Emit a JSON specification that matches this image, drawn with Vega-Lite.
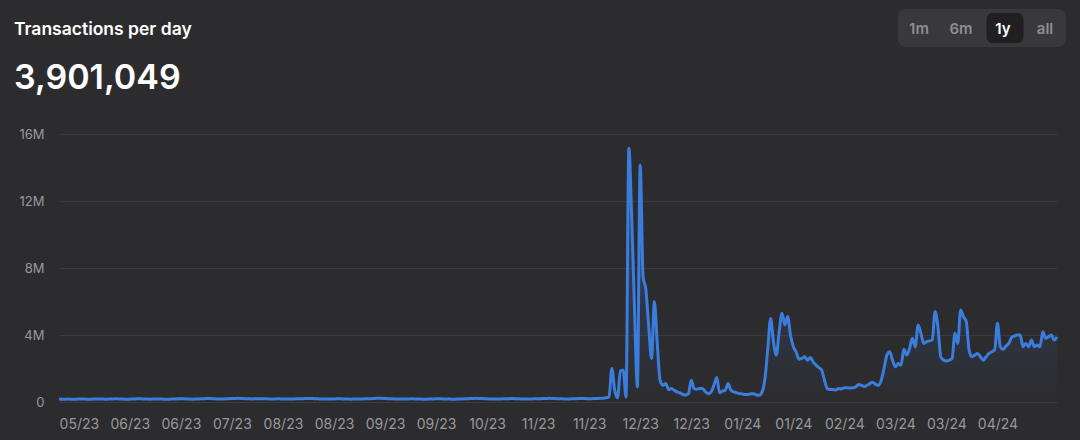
{
  "$schema": "https://vega.github.io/schema/vega-lite/v6.json",
  "background": "#2c2c2e",
  "padding": {"left": 14, "right": 14, "top": 9, "bottom": 9},
  "config": {"view": {"stroke": null}, "font": "Inter"},
  "datasets": {
    "btns": [{"b": "1m", "sel": false}, {"b": "6m", "sel": false}, {"b": "1y", "sel": true}, {"b": "all", "sel": false}],
    "head": [{"t": "Transactions per day"}],
    "tx": [
{"d":"2023-05-16","v":175000},{"d":"2023-05-17","v":170000},{"d":"2023-05-18","v":168000},{"d":"2023-05-19","v":172000},{"d":"2023-05-20","v":165000},{"d":"2023-05-21","v":160000},{"d":"2023-05-22","v":170000},{"d":"2023-05-23","v":178000},{"d":"2023-05-24","v":182000},{"d":"2023-05-25","v":176000},{"d":"2023-05-26","v":170000},{"d":"2023-05-27","v":168000},{"d":"2023-05-28","v":174000},{"d":"2023-05-29","v":180000},{"d":"2023-05-30","v":185000},{"d":"2023-05-31","v":178000},
{"d":"2023-06-01","v":172000},{"d":"2023-06-02","v":168000},{"d":"2023-06-03","v":175000},{"d":"2023-06-04","v":182000},{"d":"2023-06-05","v":190000},{"d":"2023-06-06","v":185000},{"d":"2023-06-07","v":178000},{"d":"2023-06-08","v":170000},{"d":"2023-06-09","v":165000},{"d":"2023-06-10","v":172000},{"d":"2023-06-11","v":180000},{"d":"2023-06-12","v":186000},{"d":"2023-06-13","v":192000},{"d":"2023-06-14","v":188000},{"d":"2023-06-15","v":180000},{"d":"2023-06-16","v":174000},{"d":"2023-06-17","v":170000},{"d":"2023-06-18","v":176000},{"d":"2023-06-19","v":182000},{"d":"2023-06-20","v":178000},{"d":"2023-06-21","v":172000},{"d":"2023-06-22","v":168000},{"d":"2023-06-23","v":165000},{"d":"2023-06-24","v":170000},{"d":"2023-06-25","v":178000},{"d":"2023-06-26","v":185000},{"d":"2023-06-27","v":190000},{"d":"2023-06-28","v":196000},{"d":"2023-06-29","v":188000},{"d":"2023-06-30","v":182000},
{"d":"2023-07-01","v":176000},{"d":"2023-07-02","v":170000},{"d":"2023-07-03","v":174000},{"d":"2023-07-04","v":180000},{"d":"2023-07-05","v":188000},{"d":"2023-07-06","v":195000},{"d":"2023-07-07","v":205000},{"d":"2023-07-08","v":212000},{"d":"2023-07-09","v":200000},{"d":"2023-07-10","v":190000},{"d":"2023-07-11","v":184000},{"d":"2023-07-12","v":178000},{"d":"2023-07-13","v":182000},{"d":"2023-07-14","v":190000},{"d":"2023-07-15","v":198000},{"d":"2023-07-16","v":205000},{"d":"2023-07-17","v":210000},{"d":"2023-07-18","v":220000},{"d":"2023-07-19","v":215000},{"d":"2023-07-20","v":205000},{"d":"2023-07-21","v":198000},{"d":"2023-07-22","v":192000},{"d":"2023-07-23","v":186000},{"d":"2023-07-24","v":190000},{"d":"2023-07-25","v":196000},{"d":"2023-07-26","v":200000},{"d":"2023-07-27","v":195000},{"d":"2023-07-28","v":188000},{"d":"2023-07-29","v":182000},{"d":"2023-07-30","v":178000},{"d":"2023-07-31","v":184000},
{"d":"2023-08-01","v":190000},{"d":"2023-08-02","v":186000},{"d":"2023-08-03","v":180000},{"d":"2023-08-04","v":176000},{"d":"2023-08-05","v":172000},{"d":"2023-08-06","v":178000},{"d":"2023-08-07","v":184000},{"d":"2023-08-08","v":190000},{"d":"2023-08-09","v":196000},{"d":"2023-08-10","v":200000},{"d":"2023-08-11","v":205000},{"d":"2023-08-12","v":212000},{"d":"2023-08-13","v":205000},{"d":"2023-08-14","v":198000},{"d":"2023-08-15","v":192000},{"d":"2023-08-16","v":186000},{"d":"2023-08-17","v":180000},{"d":"2023-08-18","v":176000},{"d":"2023-08-19","v":172000},{"d":"2023-08-20","v":178000},{"d":"2023-08-21","v":184000},{"d":"2023-08-22","v":188000},{"d":"2023-08-23","v":192000},{"d":"2023-08-24","v":186000},{"d":"2023-08-25","v":180000},{"d":"2023-08-26","v":175000},{"d":"2023-08-27","v":170000},{"d":"2023-08-28","v":174000},{"d":"2023-08-29","v":178000},{"d":"2023-08-30","v":182000},{"d":"2023-08-31","v":186000},
{"d":"2023-09-01","v":190000},{"d":"2023-09-02","v":195000},{"d":"2023-09-03","v":200000},{"d":"2023-09-04","v":210000},{"d":"2023-09-05","v":218000},{"d":"2023-09-06","v":225000},{"d":"2023-09-07","v":220000},{"d":"2023-09-08","v":210000},{"d":"2023-09-09","v":200000},{"d":"2023-09-10","v":192000},{"d":"2023-09-11","v":186000},{"d":"2023-09-12","v":180000},{"d":"2023-09-13","v":176000},{"d":"2023-09-14","v":172000},{"d":"2023-09-15","v":178000},{"d":"2023-09-16","v":184000},{"d":"2023-09-17","v":190000},{"d":"2023-09-18","v":186000},{"d":"2023-09-19","v":180000},{"d":"2023-09-20","v":176000},{"d":"2023-09-21","v":172000},{"d":"2023-09-22","v":168000},{"d":"2023-09-23","v":172000},{"d":"2023-09-24","v":178000},{"d":"2023-09-25","v":184000},{"d":"2023-09-26","v":188000},{"d":"2023-09-27","v":192000},{"d":"2023-09-28","v":186000},{"d":"2023-09-29","v":180000},{"d":"2023-09-30","v":176000},
{"d":"2023-10-01","v":172000},{"d":"2023-10-02","v":168000},{"d":"2023-10-03","v":172000},{"d":"2023-10-04","v":178000},{"d":"2023-10-05","v":184000},{"d":"2023-10-06","v":190000},{"d":"2023-10-07","v":196000},{"d":"2023-10-08","v":202000},{"d":"2023-10-09","v":210000},{"d":"2023-10-10","v":218000},{"d":"2023-10-11","v":212000},{"d":"2023-10-12","v":205000},{"d":"2023-10-13","v":198000},{"d":"2023-10-14","v":190000},{"d":"2023-10-15","v":184000},{"d":"2023-10-16","v":178000},{"d":"2023-10-17","v":172000},{"d":"2023-10-18","v":176000},{"d":"2023-10-19","v":182000},{"d":"2023-10-20","v":188000},{"d":"2023-10-21","v":194000},{"d":"2023-10-22","v":200000},{"d":"2023-10-23","v":205000},{"d":"2023-10-24","v":198000},{"d":"2023-10-25","v":192000},{"d":"2023-10-26","v":186000},{"d":"2023-10-27","v":180000},{"d":"2023-10-28","v":176000},{"d":"2023-10-29","v":180000},{"d":"2023-10-30","v":186000},{"d":"2023-10-31","v":190000},
{"d":"2023-11-01","v":196000},{"d":"2023-11-02","v":200000},{"d":"2023-11-03","v":205000},{"d":"2023-11-04","v":212000},{"d":"2023-11-05","v":218000},{"d":"2023-11-06","v":210000},{"d":"2023-11-07","v":202000},{"d":"2023-11-08","v":196000},{"d":"2023-11-09","v":190000},{"d":"2023-11-10","v":186000},{"d":"2023-11-11","v":182000},{"d":"2023-11-12","v":186000},{"d":"2023-11-13","v":192000},{"d":"2023-11-14","v":198000},{"d":"2023-11-15","v":205000},{"d":"2023-11-16","v":210000},{"d":"2023-11-17","v":205000},{"d":"2023-11-18","v":200000},{"d":"2023-11-19","v":196000},{"d":"2023-11-20","v":200000},{"d":"2023-11-21","v":206000},{"d":"2023-11-22","v":212000},{"d":"2023-11-23","v":220000},{"d":"2023-11-24","v":230000},{"d":"2023-11-25","v":250000},{"d":"2023-11-26","v":300000},{"d":"2023-11-27","v":2000000},{"d":"2023-11-28","v":700000},{"d":"2023-11-29","v":250000},{"d":"2023-11-30","v":1850000},
{"d":"2023-12-01","v":1900000},{"d":"2023-12-02","v":300000},{"d":"2023-12-03","v":15150000},{"d":"2023-12-04","v":11000000},{"d":"2023-12-05","v":5500000},{"d":"2023-12-06","v":900000},{"d":"2023-12-07","v":14150000},{"d":"2023-12-08","v":7500000},{"d":"2023-12-09","v":6700000},{"d":"2023-12-10","v":4500000},{"d":"2023-12-11","v":2600000},{"d":"2023-12-12","v":6000000},{"d":"2023-12-13","v":3500000},{"d":"2023-12-14","v":1300000},{"d":"2023-12-15","v":1000000},{"d":"2023-12-16","v":1100000},{"d":"2023-12-17","v":750000},{"d":"2023-12-18","v":800000},{"d":"2023-12-19","v":700000},{"d":"2023-12-20","v":600000},{"d":"2023-12-21","v":550000},{"d":"2023-12-22","v":450000},{"d":"2023-12-23","v":420000},{"d":"2023-12-24","v":500000},{"d":"2023-12-25","v":1300000},{"d":"2023-12-26","v":800000},{"d":"2023-12-27","v":760000},{"d":"2023-12-28","v":800000},{"d":"2023-12-29","v":800000},{"d":"2023-12-30","v":600000},{"d":"2023-12-31","v":500000},
{"d":"2024-01-01","v":600000},{"d":"2024-01-02","v":1000000},{"d":"2024-01-03","v":1470000},{"d":"2024-01-04","v":550000},{"d":"2024-01-05","v":650000},{"d":"2024-01-06","v":700000},{"d":"2024-01-07","v":1100000},{"d":"2024-01-08","v":700000},{"d":"2024-01-09","v":600000},{"d":"2024-01-10","v":550000},{"d":"2024-01-11","v":500000},{"d":"2024-01-12","v":480000},{"d":"2024-01-13","v":450000},{"d":"2024-01-14","v":450000},{"d":"2024-01-15","v":500000},{"d":"2024-01-16","v":500000},{"d":"2024-01-17","v":420000},{"d":"2024-01-18","v":400000},{"d":"2024-01-19","v":600000},{"d":"2024-01-20","v":1400000},{"d":"2024-01-21","v":3200000},{"d":"2024-01-22","v":4980000},{"d":"2024-01-23","v":3600000},{"d":"2024-01-24","v":2800000},{"d":"2024-01-25","v":4200000},{"d":"2024-01-26","v":5300000},{"d":"2024-01-27","v":4600000},{"d":"2024-01-28","v":5100000},{"d":"2024-01-29","v":4000000},{"d":"2024-01-30","v":3300000},{"d":"2024-01-31","v":3000000},
{"d":"2024-02-01","v":2550000},{"d":"2024-02-02","v":2600000},{"d":"2024-02-03","v":2700000},{"d":"2024-02-04","v":2500000},{"d":"2024-02-05","v":2650000},{"d":"2024-02-06","v":2400000},{"d":"2024-02-07","v":2200000},{"d":"2024-02-08","v":2050000},{"d":"2024-02-09","v":1900000},{"d":"2024-02-10","v":1300000},{"d":"2024-02-11","v":800000},{"d":"2024-02-12","v":750000},{"d":"2024-02-13","v":750000},{"d":"2024-02-14","v":720000},{"d":"2024-02-15","v":800000},{"d":"2024-02-16","v":780000},{"d":"2024-02-17","v":850000},{"d":"2024-02-18","v":850000},{"d":"2024-02-19","v":830000},{"d":"2024-02-20","v":850000},{"d":"2024-02-21","v":900000},{"d":"2024-02-22","v":1050000},{"d":"2024-02-23","v":1000000},{"d":"2024-02-24","v":920000},{"d":"2024-02-25","v":1000000},{"d":"2024-02-26","v":1100000},{"d":"2024-02-27","v":1180000},{"d":"2024-02-28","v":1050000},{"d":"2024-02-29","v":1000000},
{"d":"2024-03-01","v":1300000},{"d":"2024-03-02","v":2000000},{"d":"2024-03-03","v":2800000},{"d":"2024-03-04","v":3000000},{"d":"2024-03-05","v":2500000},{"d":"2024-03-06","v":2100000},{"d":"2024-03-07","v":2300000},{"d":"2024-03-08","v":2200000},{"d":"2024-03-09","v":3150000},{"d":"2024-03-10","v":2800000},{"d":"2024-03-11","v":3200000},{"d":"2024-03-12","v":3800000},{"d":"2024-03-13","v":3300000},{"d":"2024-03-14","v":4600000},{"d":"2024-03-15","v":4100000},{"d":"2024-03-16","v":3500000},{"d":"2024-03-17","v":3600000},{"d":"2024-03-18","v":3650000},{"d":"2024-03-19","v":3700000},{"d":"2024-03-20","v":5400000},{"d":"2024-03-21","v":4500000},{"d":"2024-03-22","v":2700000},{"d":"2024-03-23","v":2500000},{"d":"2024-03-24","v":2450000},{"d":"2024-03-25","v":2500000},{"d":"2024-03-26","v":2600000},{"d":"2024-03-27","v":4100000},{"d":"2024-03-28","v":3500000},{"d":"2024-03-29","v":5500000},{"d":"2024-03-30","v":5100000},{"d":"2024-03-31","v":4800000},
{"d":"2024-04-01","v":3100000},{"d":"2024-04-02","v":2700000},{"d":"2024-04-03","v":2800000},{"d":"2024-04-04","v":2900000},{"d":"2024-04-05","v":2700000},{"d":"2024-04-06","v":2500000},{"d":"2024-04-07","v":2700000},{"d":"2024-04-08","v":2900000},{"d":"2024-04-09","v":3000000},{"d":"2024-04-10","v":3100000},{"d":"2024-04-11","v":4700000},{"d":"2024-04-12","v":3300000},{"d":"2024-04-13","v":3150000},{"d":"2024-04-14","v":3350000},{"d":"2024-04-15","v":3500000},{"d":"2024-04-16","v":3850000},{"d":"2024-04-17","v":3950000},{"d":"2024-04-18","v":4000000},{"d":"2024-04-19","v":4000000},{"d":"2024-04-20","v":3300000},{"d":"2024-04-21","v":3500000},{"d":"2024-04-22","v":3300000},{"d":"2024-04-23","v":3700000},{"d":"2024-04-24","v":3300000},{"d":"2024-04-25","v":3400000},{"d":"2024-04-26","v":3300000},{"d":"2024-04-27","v":4200000},{"d":"2024-04-28","v":3800000},{"d":"2024-04-29","v":3900000},{"d":"2024-04-30","v":4000000},
{"d":"2024-05-01","v":3700000},{"d":"2024-05-02","v":3901049}
    ]
  },
  "spacing": 15,
  "vconcat": [
    {
      "spacing": 0,
      "hconcat": [
        {
          "width": 839,
          "height": 38,
          "data": {"name": "head"},
          "mark": {"type": "text", "fontSize": 17.5, "fontWeight": 600, "align": "left", "baseline": "middle", "dy": 2, "dx": -45, "color": "#ffffff"},
          "encoding": {
            "x": {"field": "t", "type": "nominal", "bandPosition": 0, "scale": {"type": "band", "paddingInner": 0, "paddingOuter": 0}, "axis": null},
            "text": {"field": "t"}
          }
        },
        {
          "width": 168,
          "height": 38,
          "data": {"name": "btns"},
          "encoding": {
            "x": {"field": "b", "type": "nominal", "scale": {"type": "band", "domain": ["1m", "6m", "1y", "all"], "paddingInner": 0, "paddingOuter": 0}, "axis": null}
          },
          "layer": [
            {
              "transform": [{"filter": "datum.b == '1m'"}],
              "mark": {"type": "rect", "color": "#39393b", "cornerRadiusTopLeft": 8, "cornerRadiusBottomLeft": 8}
            },
            {
              "transform": [{"filter": "datum.b == '6m' || datum.b == '1y'"}],
              "mark": {"type": "rect", "color": "#39393b"}
            },
            {
              "transform": [{"filter": "datum.b == 'all'"}],
              "mark": {"type": "rect", "color": "#39393b", "cornerRadiusTopRight": 8, "cornerRadiusBottomRight": 8}
            },
            {
              "transform": [{"filter": "datum.sel"}],
              "mark": {"type": "rect", "color": "#202022", "cornerRadius": 6, "width": 37, "xOffset": 2},
              "encoding": {
                "y": {"field": "b", "type": "nominal", "scale": {"type": "band", "domain": ["1y"], "paddingInner": 0, "paddingOuter": 0.133}, "axis": null}
              }
            },
            {
              "mark": {"type": "text", "fontSize": 15, "fontWeight": 600, "baseline": "middle", "dy": 1},
              "encoding": {
                "text": {"field": "b"},
                "color": {"condition": {"test": "datum.sel", "value": "#ffffff"}, "value": "#8e8e93"}
              }
            }
          ]
        }
      ]
    },
    {
      "width": 998,
      "height": 268,
      "title": {"text": "3,901,049", "anchor": "start", "frame": "bounds", "fontSize": 34, "fontWeight": 600, "color": "#ffffff", "offset": 32},
      "data": {"name": "tx"},
      "encoding": {
        "x": {
          "field": "d", "type": "temporal",
          "scale": {"type": "utc", "nice": false},
          "axis": {
            "values": [
              {"year": 2023, "month": 5, "date": 23, "utc": true},
              {"year": 2023, "month": 6, "date": 10, "utc": true},
              {"year": 2023, "month": 6, "date": 28, "utc": true},
              {"year": 2023, "month": 7, "date": 16, "utc": true},
              {"year": 2023, "month": 8, "date": 3, "utc": true},
              {"year": 2023, "month": 8, "date": 21, "utc": true},
              {"year": 2023, "month": 9, "date": 8, "utc": true},
              {"year": 2023, "month": 9, "date": 26, "utc": true},
              {"year": 2023, "month": 10, "date": 14, "utc": true},
              {"year": 2023, "month": 11, "date": 1, "utc": true},
              {"year": 2023, "month": 11, "date": 19, "utc": true},
              {"year": 2023, "month": 12, "date": 7, "utc": true},
              {"year": 2023, "month": 12, "date": 25, "utc": true},
              {"year": 2024, "month": 1, "date": 12, "utc": true},
              {"year": 2024, "month": 1, "date": 30, "utc": true},
              {"year": 2024, "month": 2, "date": 17, "utc": true},
              {"year": 2024, "month": 3, "date": 6, "utc": true},
              {"year": 2024, "month": 3, "date": 24, "utc": true},
              {"year": 2024, "month": 4, "date": 11, "utc": true}
            ],
            "format": "%m/%y",
            "labelColor": "#98989d", "labelFontSize": 14, "labelPadding": 15,
            "ticks": false, "tickSize": 0, "domain": false, "grid": false, "title": null,
            "labelFlush": false, "labelOverlap": false
          }
        },
        "y": {
          "field": "v", "type": "quantitative",
          "scale": {"domain": [0, 16000000], "nice": false},
          "axis": {
            "values": [0, 4000000, 8000000, 12000000, 16000000],
            "labelExpr": "datum.value == 0 ? '0' : (datum.value / 1000000) + 'M'",
            "labelColor": "#98989d", "labelFontSize": 13, "labelPadding": 15,
            "ticks": false, "tickSize": 0, "domain": false, "grid": true, "gridColor": "#3a3a3c", "gridWidth": 1,
            "title": null, "minExtent": 45, "maxExtent": 45
          }
        }
      },
      "layer": [
        {
          "mark": {"type": "area", "interpolate": "monotone", "color": {"gradient": "linear", "x1": 0, "y1": 0, "x2": 0, "y2": 1, "stops": [{"offset": 0, "color": "rgba(59,125,230,0.35)"}, {"offset": 1, "color": "rgba(59,125,230,0)"}]}},
          "encoding": {}
        },
        {
          "mark": {"type": "line", "interpolate": "monotone", "color": "#3b7ddd", "strokeWidth": 3},
          "encoding": {}
        }
      ]
    }
  ]
}
